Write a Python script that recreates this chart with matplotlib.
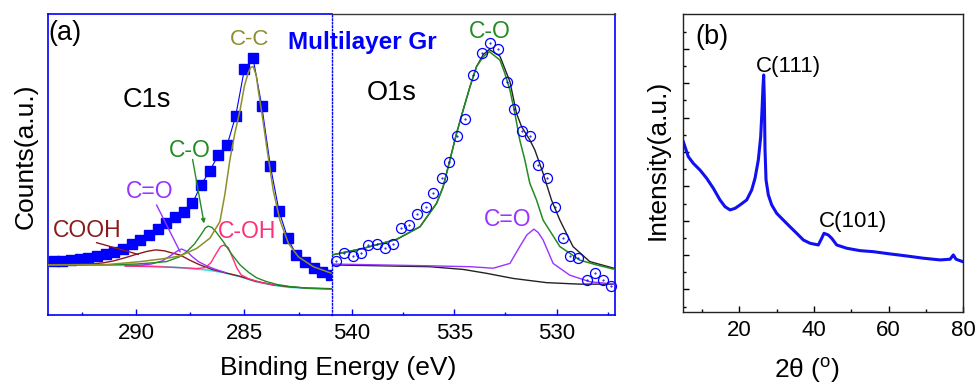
import matplotlib
matplotlib.use("Agg")
import matplotlib.pyplot as plt
from matplotlib.ticker import MultipleLocator, FixedLocator

plt.rcParams["font.family"] = ["Liberation Sans", "DejaVu Sans"]
plt.rcParams["mathtext.fontset"] = "custom"
plt.rcParams["mathtext.rm"] = "Liberation Sans"

#%% Data -- C1s (binding energy in eV, counts in a.u.)
c1s_be = [281.0, 281.4, 281.8, 282.2, 282.6, 283.0, 283.4, 283.8, 284.2, 284.6,
          285.0, 285.4, 285.8, 286.2, 286.6, 287.0, 287.4, 287.8, 288.2, 288.6,
          289.0, 289.4, 289.8, 290.2, 290.6, 291.0, 291.4, 291.8, 292.2, 292.6,
          293.0, 293.4, 293.8]
c1s_counts = [13.1, 14.2, 15.4, 17.6, 19.8, 25.4, 34.4, 49.4, 69.5, 85.3,
              81.6, 66.1, 56.3, 53.1, 47.8, 43.1, 37.0, 34.0, 32.5, 30.5,
              28.5, 26.5, 24.8, 23.3, 21.8, 20.8, 20.0, 19.4, 18.9, 18.5,
              18.2, 17.9, 17.7]

c1s_bg_be = [294.05, 291.0, 289.8, 288.0, 286.7, 286.0, 285.2, 284.5, 283.7, 283.0, 282.1, 281.0]
c1s_bg = [16.5, 16.4, 16.3, 15.6, 14.8, 14.0, 12.6, 11.0, 9.8, 9.1, 8.7, 8.5]

cooh_be = [294.05, 292.1, 291.5, 291.0, 290.5, 290.0, 289.5, 289.1, 288.7, 288.3,
           287.97, 287.5, 287.05, 286.5, 286.0, 285.2, 284.5, 283.7, 282.9, 282.1, 281.0]
cooh = [16.6, 16.8, 17.2, 17.9, 18.9, 20.0, 21.0, 21.5, 21.2, 20.4,
        19.8, 18.0, 16.5, 15.0, 14.1, 12.7, 11.1, 9.9, 9.2, 8.8, 8.6]

cdo_be = [290.5, 289.8, 289.3, 288.8, 288.4, 288.1, 287.9, 287.65, 287.4, 287.1,
          286.74, 286.4, 285.9]
cdo = [16.3, 16.4, 16.8, 17.8, 19.6, 21.1, 21.8, 21.0, 19.2, 17.5, 16.2, 15.2, 14.0]

co_be = [294.05, 291.0, 290.0, 289.2, 288.6, 288.0, 287.66, 287.3, 287.0, 286.8,
         286.67, 286.5, 286.3, 285.97, 285.6, 285.2, 284.8, 284.43, 284.0, 283.5,
         282.9, 282.0, 281.0]
co = [16.4, 16.6, 16.8, 17.2, 17.6, 19.2, 20.9, 23.5, 26.6, 28.8,
      29.4, 29.0, 27.4, 24.2, 20.2, 16.5, 14.0, 12.2, 11.0, 10.0,
      9.3, 8.7, 8.5]

coh_be = [290.5, 289.0, 288.0, 287.2, 286.8, 286.55, 286.3, 286.1, 285.95, 285.75,
          285.55, 285.35, 285.15, 284.8, 284.2, 283.5]
coh = [16.1, 15.9, 15.6, 15.3, 15.6, 17.2, 20.3, 22.6, 23.1, 22.3,
       19.0, 15.5, 13.2, 11.9, 10.6, 9.7]

cc_be = [294.05, 291.35, 289.8, 288.6, 287.97, 287.2, 286.59, 286.13, 285.9, 285.67,
         285.45, 285.2, 285.0, 284.82, 284.7, 284.59, 284.45, 284.36, 284.15, 283.97,
         283.67, 283.36, 282.97, 282.51, 281.82, 280.97]
cc = [16.5, 16.6, 17.6, 18.7, 19.5, 22.0, 25.4, 30.9, 40.0, 51.4,
      60.0, 68.0, 76.0, 80.5, 82.3, 82.5, 79.5, 74.7, 65.0, 55.8,
      41.4, 31.4, 23.7, 19.2, 15.9, 13.7]

#%% Data -- O1s
o1s_be = [540.77, 540.38, 539.96, 539.57, 539.2, 538.79, 538.38, 538.0, 537.61, 537.21,
          536.8, 536.39, 536.02, 535.61, 535.24, 534.85, 534.46, 534.07, 533.66, 533.26,
          532.85, 532.44, 532.07, 531.71, 531.31, 530.9, 530.49, 530.09, 529.68, 529.36,
          528.95, 528.54, 528.14, 527.75, 527.36]
o1s_counts = [17.9, 20.6, 19.5, 20.4, 23.1, 23.4, 22.0, 23.4, 28.7, 29.8,
              33.4, 35.7, 40.3, 45.3, 50.8, 59.4, 65.2, 79.7, 87.1, 90.2,
              88.2, 77.5, 68.3, 61.0, 59.5, 49.7, 45.3, 35.7, 25.3, 19.5,
              18.8, 11.5, 13.8, 11.6, 9.5]

o1s_bg_be = [540.98, 536.18, 534.56, 533.42, 532.12, 530.49, 528.87, 527.15]
o1s_bg = [16.5, 15.9, 15.0, 13.7, 12.0, 10.6, 10.1, 10.1]

o1s_co_be = [540.98, 539.44, 537.81, 536.67, 535.86, 535.54, 535.21, 534.88, 534.56, 534.23,
             533.91, 533.58, 533.29, 532.77, 532.53, 532.28, 532.04, 531.8, 531.55, 531.31,
             530.98, 530.66, 530.25, 529.84, 529.36, 528.87, 528.05, 527.15]
o1s_co = [19.8, 22.0, 25.0, 29.2, 37.0, 42.5, 51.4, 60.4, 68.1, 75.8,
          82.5, 85.8, 87.5, 84.7, 80.3, 74.7, 67.0, 58.1, 51.4, 43.7,
          38.1, 31.4, 27.0, 22.6, 20.4, 18.1, 16.5, 15.0]

o1s_cdo_be = [540.98, 536.18, 534.2, 533.1, 532.28, 531.8, 531.45, 531.11, 530.9, 530.66,
              530.17, 529.36, 528.38, 527.15]
o1s_cdo = [16.8, 16.2, 15.9, 15.4, 17.0, 22.6, 26.5, 28.4, 27.3, 24.8,
           17.0, 13.1, 10.9, 10.1]

o1s_env_be = [540.98, 539.44, 537.81, 536.67, 535.86, 535.54, 535.21, 534.88, 534.56, 534.23,
              533.91, 533.58, 533.29, 532.77, 532.28, 531.96, 531.71, 531.31, 531.06, 530.66,
              530.25, 529.84, 529.2, 528.38, 527.15]
o1s_env = [19.8, 22.0, 25.0, 29.2, 37.0, 42.5, 51.4, 60.4, 68.1, 75.8,
           82.5, 86.5, 88.2, 86.0, 77.5, 67.0, 62.5, 58.1, 54.7, 47.0,
           38.1, 31.4, 22.6, 17.6, 15.3]

#%% Data -- XRD
xrd_2theta = [5.0, 6.34, 7.68, 9.47, 11.26, 13.04, 14.83, 16.17, 17.51, 18.85,
              20.19, 21.98, 23.32, 24.21, 25.09, 25.73, 26.08, 26.35, 26.53, 26.71,
              26.89, 27.16, 27.78, 28.68, 30.02, 31.79, 33.58, 35.37, 37.16, 38.94,
              41.17, 42.07, 42.69, 43.84, 44.75, 46.09, 48.77, 52.34, 55.9, 60.37,
              64.84, 69.3, 73.77, 76.45, 77.33, 78.05, 79.84]
xrd_int = [106.0, 97.3, 93.4, 89.5, 84.7, 78.9, 72.1, 68.2, 66.3, 67.2,
           69.2, 72.1, 77.9, 84.7, 95.3, 108.9, 124.4, 138.0, 144.8, 130.2,
           101.2, 83.7, 75.0, 69.2, 64.3, 60.4, 56.5, 52.7, 48.8, 46.9,
           45.9, 49.8, 52.7, 51.7, 49.8, 45.9, 44.0, 42.6, 42.0, 40.7,
           39.5, 38.2, 37.2, 37.6, 40.1, 37.6, 36.2]

#%% Colours
BLUE = "#0000FF"
COOH_C = "#8B1A1A"
CDO_C = "#9933FF"
CO_C = "#228B22"
COH_C = "#FF2F7A"
CC_C = "#8E8E2A"
BG_C = "#33E0E8"

W, H = 979, 386


def px_box(x0, y0, x1, y1):
    return [x0 / W, 1 - y1 / H, (x1 - x0) / W, (y1 - y0) / H]


def fx(x):
    return x / W


def fy(y):
    return 1 - y / H


fig = plt.figure(figsize=(W / 100, H / 100), dpi=100)

ax_c = fig.add_axes(px_box(48.3, 14, 331.7, 314.5))
ax_o = fig.add_axes(px_box(331.7, 14, 615, 314.5))
ax_b = fig.add_axes(px_box(683.3, 14, 963.3, 312))

#%% C1s panel
ax_c.plot(c1s_bg_be, c1s_bg, color=BG_C, lw=1.2, zorder=2)
ax_c.plot(c1s_be, c1s_counts, color=BLUE, lw=0.8, marker="s", ms=7.6, mec=BLUE,
          mfc=BLUE, zorder=3)
ax_c.plot(cooh_be, cooh, color=COOH_C, lw=1.0, zorder=4)
ax_c.plot(coh_be, coh, color=COH_C, lw=1.0, zorder=4)
ax_c.plot(cdo_be, cdo, color=CDO_C, lw=1.0, zorder=4)
ax_c.plot(co_be, co, color=CO_C, lw=1.0, zorder=4)
ax_c.plot(cc_be, cc, color=CC_C, lw=1.1, zorder=5)

ax_c.plot([291.82, 289.9], [23.9, 20.0], color=COOH_C, lw=1.0, zorder=5)
ax_c.plot([289.05, 287.97], [36.4, 20.9], color=CDO_C, lw=1.0, zorder=5)
ax_c.annotate("", xy=(286.86, 30.3), xytext=(287.39, 51.6),
              arrowprops=dict(arrowstyle="-|>", color=CO_C, lw=1.0,
                              mutation_scale=6, shrinkA=0, shrinkB=0), zorder=5)

ax_c.text(293.28, 93.7, "(a)", fontsize=19.5, ha="center", va="center")
ax_c.text(289.51, 71.4, "C1s", fontsize=19.5, ha="center", va="center")
ax_c.text(284.74, 91.6, "C-C", fontsize=16, color=CC_C, ha="center", va="center")
ax_c.text(287.51, 54.7, "C-O", fontsize=16.5, color=CO_C, ha="center", va="center")
ax_c.text(289.36, 40.9, "C=O", fontsize=16.5, color=CDO_C, ha="center", va="center")
ax_c.text(292.25, 28.1, "COOH", fontsize=16.5, color=COOH_C, ha="center", va="center")
ax_c.text(284.87, 27.6, "C-OH", fontsize=16.5, color=COH_C, ha="center", va="center")

ax_c.set_xlim(294.05, 280.97)
ax_c.set_ylim(0, 100)
ax_c.set_yticks([])
ax_c.xaxis.set_major_locator(FixedLocator([290, 285]))
ax_c.xaxis.set_minor_locator(FixedLocator([292.5, 287.5, 282.5]))

#%% O1s panel
ax_o.plot(o1s_bg_be, o1s_bg, color="#222222", lw=1.0, zorder=2)
ax_o.plot(o1s_cdo_be, o1s_cdo, color=CDO_C, lw=1.0, zorder=3)
ax_o.plot(o1s_env_be, o1s_env, color="#222222", lw=1.0, zorder=3)
ax_o.plot(o1s_co_be, o1s_co, color=CO_C, lw=1.1, zorder=4)
ax_o.plot(o1s_be, o1s_counts, ls="none", marker="o", ms=7.2, mfc="none", mec=BLUE,
          mew=0.9, zorder=5, clip_on=False)
ax_o.plot(o1s_be, o1s_counts, ls="none", marker=".", ms=1.0, mfc=BLUE, mec=BLUE,
          zorder=5)

ax_o.text(538.05, 73.6, "O1s", fontsize=19.5, ha="center", va="center")
ax_o.text(533.26, 94.1, "C-O", fontsize=16.5, color=CO_C, ha="center", va="center")
ax_o.text(532.4, 31.7, "C=O", fontsize=16.5, color=CDO_C, ha="center", va="center")

ax_o.set_xlim(540.98, 527.15)
ax_o.set_ylim(0, 100)
ax_o.set_yticks([])
ax_o.xaxis.set_major_locator(FixedLocator([540, 535, 530]))
ax_o.xaxis.set_minor_locator(FixedLocator([537.5, 532.5, 527.5]))

for ax in (ax_c, ax_o):
    ax.tick_params(axis="x", which="major", direction="in", length=4, width=1,
                   color=BLUE, labelsize=16, pad=6)
    ax.tick_params(axis="x", which="minor", direction="in", length=2.5, width=1,
                   color=BLUE)
    for s in ax.spines.values():
        s.set_color(BLUE)
        s.set_linewidth(1.2)

ax_c.spines["right"].set_visible(False)
ax_o.spines["top"].set_color("#3a3a3a")
ax_o.spines["top"].set_linewidth(1.0)
ax_o.spines["left"].set_linestyle((0, (1, 1.5)))
ax_o.spines["left"].set_linewidth(1.0)

fig.text(fx(362.5), fy(43), "Multilayer Gr", fontsize=17.5, fontweight="bold",
         color=BLUE, ha="center", va="center")
fig.text(fx(338.5), fy(368), "Binding Energy (eV)", fontsize=19, ha="center", va="center")
fig.text(fx(26), fy(156), "Counts(a.u.)", fontsize=19, rotation=90, ha="center", va="center")

#%% XRD panel
ax_b.plot(xrd_2theta, xrd_int, color="#1010F0", lw=2.2, solid_joinstyle="round")
ax_b.set_xlim(5, 80)
ax_b.set_ylim(6.9, 180.3)
ax_b.xaxis.set_major_locator(MultipleLocator(20))
ax_b.xaxis.set_minor_locator(MultipleLocator(10))
ax_b.yaxis.set_major_locator(FixedLocator(list(range(20, 161, 20))))
ax_b.yaxis.set_minor_locator(FixedLocator(list(range(10, 171, 20))))
ax_b.tick_params(which="major", direction="in", length=4.5, width=1, labelsize=16, pad=6)
ax_b.tick_params(which="minor", direction="in", length=2.5, width=1)
ax_b.tick_params(axis="y", which="both", labelleft=False)
for s in ax_b.spines.values():
    s.set_linewidth(1.0)
    s.set_color("#222222")

ax_b.text(12.6, 167.1, "(b)", fontsize=19.5, ha="center", va="center")
ax_b.text(33.1, 149.6, "C(111)", fontsize=16, ha="center", va="center")
ax_b.text(50.5, 59.4, "C(101)", fontsize=16, ha="center", va="center")

fig.text(fx(658), fy(160), "Intensity(a.u.)", fontsize=19, rotation=90, ha="center", va="center")
fig.text(fx(807), fy(370), r"2θ ($^{\mathrm{o}}$)", fontsize=19, ha="center", va="center")

fig.savefig("out.png", dpi=100)
